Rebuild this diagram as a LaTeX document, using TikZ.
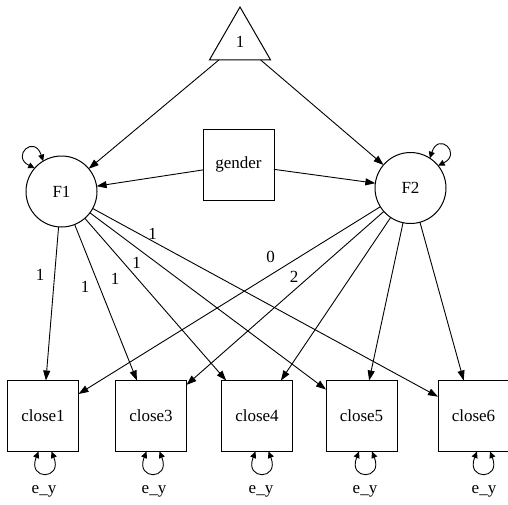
\documentclass[tikz,border=0pt]{standalone}
\usepackage{fontspec}
\setmainfont{Liberation Serif}
\usetikzlibrary{arrows.meta,shapes.geometric}
\begin{document}
\begin{tikzpicture}[x=1pt,y=-1pt,
  every node/.style={font=\fontsize{17}{20}\selectfont},
  box/.style={draw, line width=1pt, minimum size=71pt, inner sep=0pt, outer sep=0pt},
  latent/.style={draw, circle, line width=1pt, minimum size=71pt, inner sep=0pt, outer sep=0pt},
  const/.style={draw, regular polygon, regular polygon sides=3, line width=1pt, minimum size=70.6pt, inner sep=0pt, outer sep=0pt},
  arr/.style={line width=0.9pt, -{Triangle[length=10pt,width=7pt]}},
  varloop/.style={line width=0.9pt, {Triangle[length=6.5pt,width=6pt]}-{Triangle[length=6.5pt,width=6pt]}},
  elab/.style={inner sep=0pt}
]
\useasboundingbox (0,0) rectangle (508,504);

% nodes
\node[const] (tri) at (240,42.3) {\raisebox{-2.5pt}{1}};
\node[latent] (F1) at (61.5,191.5) {F1};
\node[latent] (F2) at (410.5,188) {F2};
\node[box] (gender) at (238.5,164.5) {gender};
\node[box] (close1) at (43,416) {close1};
\node[box] (close3) at (151,416) {close3};
\node[box] (close4) at (257,416) {close4};
\node[box] (close5) at (361.5,416) {close5};
\node[box] (close6) at (473.5,416) {close6};

% paths
\draw[arr] (tri) -- (F1);
\draw[arr] (tri) -- (F2);
\draw[arr] (gender) -- (F1);
\draw[arr] (gender) -- (F2);
\foreach \c in {close1,close3,close4,close5,close6}{
  \draw[arr] (F1) -- (\c);
  \draw[arr] (F2) -- (\c);
}

% loadings labels
\node[elab] (l11) at (40,275) {1};
\node[elab] (l13) at (85,286.7) {1};
\node[elab] (l14) at (115,279) {1};
\node[elab] (l15) at (136.7,262.7) {1};
\node[elab] (l16) at (152.7,234) {1};
\node[elab] (l21) at (270.7,257.3) {0};
\node[elab] (l23) at (294,277.3) {2};

% variance loops
\draw[varloop] (F1.121) .. controls +(-9,-27) and +(-24,-12) .. (F1.139);
\draw[varloop] (F2.57) .. controls +(9,-27) and +(24,-12) .. (F2.39);

\draw[varloop] ([xshift=-4.5pt]close1.south) .. controls +(-11.5,29) and +(11.5,29) .. ([xshift=8.5pt]close1.south);
\draw[varloop] ([xshift=-4.5pt]close3.south) .. controls +(-11.5,29) and +(11.5,29) .. ([xshift=8.5pt]close3.south);
\draw[varloop] ([xshift=-1.5pt]close4.south) .. controls +(-11.5,29) and +(11.5,29) .. ([xshift=11.5pt]close4.south);
\draw[varloop] ([xshift=-2.5pt]close5.south) .. controls +(-11.5,29) and +(11.5,29) .. ([xshift=10.5pt]close5.south);
\draw[varloop] ([xshift=3.5pt]close6.south) .. controls +(-11.5,29) and +(11.5,29) .. ([xshift=16.5pt]close6.south);

\node (e1) at (44,491) {e\_y};
\node (e3) at (154,491) {e\_y};
\node (e4) at (261,491) {e\_y};
\node (e5) at (365,491) {e\_y};
\node (e6) at (484,491) {e\_y};
\end{tikzpicture}
\end{document}
